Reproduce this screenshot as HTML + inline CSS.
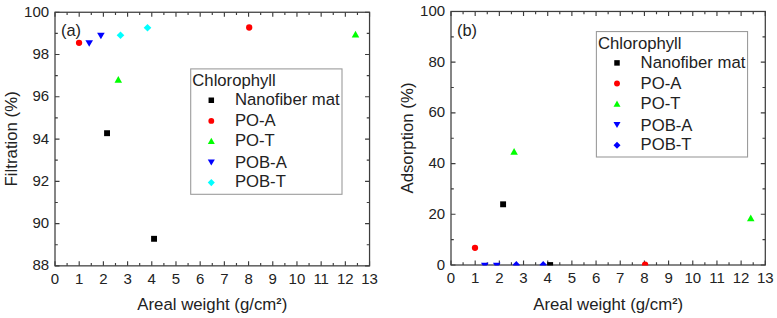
<!DOCTYPE html>
<html><head><meta charset="utf-8"><style>html,body{margin:0;padding:0;background:#fff;width:777px;height:318px;overflow:hidden}svg{display:block}</style></head><body>
<svg width="777" height="318" viewBox="0 0 777 318" font-family="Liberation Sans, sans-serif" fill="#222">
<rect width="777" height="318" fill="#fff"/>
<clipPath id="clipL"><rect x="54.40" y="11.65" width="315.75" height="254.80"/></clipPath>
<path d="M55.00 265.85v-4.5M55.00 12.25v4.5M67.10 265.85v-2.8M67.10 12.25v2.8M79.20 265.85v-4.5M79.20 12.25v4.5M91.29 265.85v-2.8M91.29 12.25v2.8M103.39 265.85v-4.5M103.39 12.25v4.5M115.49 265.85v-2.8M115.49 12.25v2.8M127.59 265.85v-4.5M127.59 12.25v4.5M139.69 265.85v-2.8M139.69 12.25v2.8M151.78 265.85v-4.5M151.78 12.25v4.5M163.88 265.85v-2.8M163.88 12.25v2.8M175.98 265.85v-4.5M175.98 12.25v4.5M188.08 265.85v-2.8M188.08 12.25v2.8M200.18 265.85v-4.5M200.18 12.25v4.5M212.28 265.85v-2.8M212.28 12.25v2.8M224.37 265.85v-4.5M224.37 12.25v4.5M236.47 265.85v-2.8M236.47 12.25v2.8M248.57 265.85v-4.5M248.57 12.25v4.5M260.67 265.85v-2.8M260.67 12.25v2.8M272.77 265.85v-4.5M272.77 12.25v4.5M284.86 265.85v-2.8M284.86 12.25v2.8M296.96 265.85v-4.5M296.96 12.25v4.5M309.06 265.85v-2.8M309.06 12.25v2.8M321.16 265.85v-4.5M321.16 12.25v4.5M333.26 265.85v-2.8M333.26 12.25v2.8M345.35 265.85v-4.5M345.35 12.25v4.5M357.45 265.85v-2.8M357.45 12.25v2.8M369.55 265.85v-4.5M369.55 12.25v4.5M55.0 265.85h4.5M369.55 265.85h-4.5M55.0 244.72h2.8M369.55 244.72h-2.8M55.0 223.58h4.5M369.55 223.58h-4.5M55.0 202.45h2.8M369.55 202.45h-2.8M55.0 181.32h4.5M369.55 181.32h-4.5M55.0 160.18h2.8M369.55 160.18h-2.8M55.0 139.05h4.5M369.55 139.05h-4.5M55.0 117.92h2.8M369.55 117.92h-2.8M55.0 96.78h4.5M369.55 96.78h-4.5M55.0 75.65h2.8M369.55 75.65h-2.8M55.0 54.52h4.5M369.55 54.52h-4.5M55.0 33.38h2.8M369.55 33.38h-2.8M55.0 12.25h4.5M369.55 12.25h-4.5" stroke="#3d3d3d" stroke-width="1.15" fill="none"/>
<rect x="55.0" y="12.25" width="314.55" height="253.60" stroke="#3d3d3d" stroke-width="1.25" fill="none"/>
<g clip-path="url(#clipL)">
<rect x="104.10" y="130.25" width="5.9" height="5.9" fill="#000"/>
<rect x="151.10" y="235.85" width="5.9" height="5.9" fill="#000"/>
<circle cx="79.05" cy="42.80" r="3.15" fill="#ff0000"/>
<circle cx="249.20" cy="27.50" r="3.15" fill="#ff0000"/>
<path d="M114.55 82.70L118.30 75.90L122.05 82.70Z" fill="#00ff00"/>
<path d="M351.75 37.55L355.50 30.75L359.25 37.55Z" fill="#00ff00"/>
<path d="M85.40 40.30L89.20 46.70L93.00 40.30Z" fill="#0000ff"/>
<path d="M97.10 32.75L100.90 39.15L104.70 32.75Z" fill="#0000ff"/>
<path d="M116.70 35.20L120.50 31.40L124.30 35.20L120.50 39.00Z" fill="#00ffff"/>
<path d="M143.70 27.70L147.50 23.90L151.30 27.70L147.50 31.50Z" fill="#00ffff"/>
</g>
<text transform="translate(55.00,283.55) scale(1,1.0)" text-anchor="middle" font-size="15">0</text>
<text transform="translate(79.20,283.55) scale(1,1.0)" text-anchor="middle" font-size="15">1</text>
<text transform="translate(103.39,283.55) scale(1,1.0)" text-anchor="middle" font-size="15">2</text>
<text transform="translate(127.59,283.55) scale(1,1.0)" text-anchor="middle" font-size="15">3</text>
<text transform="translate(151.78,283.55) scale(1,1.0)" text-anchor="middle" font-size="15">4</text>
<text transform="translate(175.98,283.55) scale(1,1.0)" text-anchor="middle" font-size="15">5</text>
<text transform="translate(200.18,283.55) scale(1,1.0)" text-anchor="middle" font-size="15">6</text>
<text transform="translate(224.37,283.55) scale(1,1.0)" text-anchor="middle" font-size="15">7</text>
<text transform="translate(248.57,283.55) scale(1,1.0)" text-anchor="middle" font-size="15">8</text>
<text transform="translate(272.77,283.55) scale(1,1.0)" text-anchor="middle" font-size="15">9</text>
<text transform="translate(296.96,283.55) scale(1,1.0)" text-anchor="middle" font-size="15">10</text>
<text transform="translate(321.16,283.55) scale(1,1.0)" text-anchor="middle" font-size="15">11</text>
<text transform="translate(345.35,283.55) scale(1,1.0)" text-anchor="middle" font-size="15">12</text>
<text transform="translate(369.55,283.55) scale(1,1.0)" text-anchor="middle" font-size="15">13</text>
<text transform="translate(49.10,270.45) scale(1,1.0)" text-anchor="end" font-size="15">88</text>
<text transform="translate(49.10,228.18) scale(1,1.0)" text-anchor="end" font-size="15">90</text>
<text transform="translate(49.10,185.92) scale(1,1.0)" text-anchor="end" font-size="15">92</text>
<text transform="translate(49.10,143.65) scale(1,1.0)" text-anchor="end" font-size="15">94</text>
<text transform="translate(49.10,101.38) scale(1,1.0)" text-anchor="end" font-size="15">96</text>
<text transform="translate(49.10,59.12) scale(1,1.0)" text-anchor="end" font-size="15">98</text>
<text transform="translate(49.10,16.85) scale(1,1.0)" text-anchor="end" font-size="15">100</text>
<text x="212.28" y="309.6" text-anchor="middle" font-size="16.8">Areal weight (g/cm<tspan font-size="9.6" font-weight="bold" dy="-5.4">2</tspan><tspan dy="5.4">)</tspan></text>
<text transform="translate(17.1,138.85) rotate(-90) scale(1,0.95)" text-anchor="middle" font-size="16.8">Filtration (%)</text>
<text x="61.0" y="35.65" font-size="16.4">(a)</text>
<rect x="190.7" y="68.9" width="151.3" height="125.4" fill="#fff" stroke="#9c9c9c" stroke-width="1.1"/>
<text x="192.30" y="86.00" font-size="16.7">Chlorophyll</text>
<rect x="208.56" y="97.51" width="5.487000000000001" height="5.487000000000001" fill="#000"/>
<text transform="translate(234.90,105.20) scale(1,0.95)" font-size="16.7">Nanofiber mat</text>
<circle cx="211.30" cy="120.90" r="2.93" fill="#ff0000"/>
<text transform="translate(234.90,126.20) scale(1,0.95)" font-size="16.7">PO-A</text>
<path d="M207.81 144.06L211.30 137.74L214.79 144.06Z" fill="#00ff00"/>
<text transform="translate(234.90,146.00) scale(1,0.95)" font-size="16.7">PO-T</text>
<path d="M207.77 159.42L211.30 165.38L214.83 159.42Z" fill="#0000ff"/>
<text transform="translate(234.90,167.50) scale(1,0.95)" font-size="16.7">POB-A</text>
<path d="M207.77 182.60L211.30 179.07L214.83 182.60L211.30 186.13Z" fill="#00ffff"/>
<text transform="translate(234.90,187.30) scale(1,0.95)" font-size="16.7">POB-T</text>
<clipPath id="clipR"><rect x="450.40" y="10.86" width="315.50" height="254.74"/></clipPath>
<path d="M451.00 265.0v-4.5M451.00 11.46v4.5M463.09 265.0v-2.8M463.09 11.46v2.8M475.18 265.0v-4.5M475.18 11.46v4.5M487.27 265.0v-2.8M487.27 11.46v2.8M499.35 265.0v-4.5M499.35 11.46v4.5M511.44 265.0v-2.8M511.44 11.46v2.8M523.53 265.0v-4.5M523.53 11.46v4.5M535.62 265.0v-2.8M535.62 11.46v2.8M547.71 265.0v-4.5M547.71 11.46v4.5M559.80 265.0v-2.8M559.80 11.46v2.8M571.88 265.0v-4.5M571.88 11.46v4.5M583.97 265.0v-2.8M583.97 11.46v2.8M596.06 265.0v-4.5M596.06 11.46v4.5M608.15 265.0v-2.8M608.15 11.46v2.8M620.24 265.0v-4.5M620.24 11.46v4.5M632.33 265.0v-2.8M632.33 11.46v2.8M644.42 265.0v-4.5M644.42 11.46v4.5M656.50 265.0v-2.8M656.50 11.46v2.8M668.59 265.0v-4.5M668.59 11.46v4.5M680.68 265.0v-2.8M680.68 11.46v2.8M692.77 265.0v-4.5M692.77 11.46v4.5M704.86 265.0v-2.8M704.86 11.46v2.8M716.95 265.0v-4.5M716.95 11.46v4.5M729.03 265.0v-2.8M729.03 11.46v2.8M741.12 265.0v-4.5M741.12 11.46v4.5M753.21 265.0v-2.8M753.21 11.46v2.8M765.30 265.0v-4.5M765.30 11.46v4.5M451.0 265.00h4.5M765.3 265.00h-4.5M451.0 239.65h2.8M765.3 239.65h-2.8M451.0 214.29h4.5M765.3 214.29h-4.5M451.0 188.94h2.8M765.3 188.94h-2.8M451.0 163.58h4.5M765.3 163.58h-4.5M451.0 138.23h2.8M765.3 138.23h-2.8M451.0 112.88h4.5M765.3 112.88h-4.5M451.0 87.52h2.8M765.3 87.52h-2.8M451.0 62.17h4.5M765.3 62.17h-4.5M451.0 36.81h2.8M765.3 36.81h-2.8M451.0 11.46h4.5M765.3 11.46h-4.5" stroke="#3d3d3d" stroke-width="1.15" fill="none"/>
<rect x="451.0" y="11.46" width="314.30" height="253.54" stroke="#3d3d3d" stroke-width="1.25" fill="none"/>
<g clip-path="url(#clipR)">
<rect x="500.15" y="201.35" width="5.9" height="5.9" fill="#000"/>
<rect x="547.20" y="262.10" width="5.9" height="5.9" fill="#000"/>
<circle cx="475.00" cy="247.85" r="3.15" fill="#ff0000"/>
<circle cx="645.10" cy="264.75" r="3.15" fill="#ff0000"/>
<path d="M510.35 154.70L514.10 147.90L517.85 154.70Z" fill="#00ff00"/>
<path d="M747.00 221.30L750.75 214.50L754.50 221.30Z" fill="#00ff00"/>
<path d="M481.00 262.80L484.80 269.20L488.60 262.80Z" fill="#0000ff"/>
<path d="M492.95 262.80L496.75 269.20L500.55 262.80Z" fill="#0000ff"/>
<path d="M512.50 264.90L516.30 261.10L520.10 264.90L516.30 268.70Z" fill="#0000ff"/>
<path d="M539.40 264.90L543.20 261.10L547.00 264.90L543.20 268.70Z" fill="#0000ff"/>
</g>
<text transform="translate(451.00,282.70) scale(1,1.0)" text-anchor="middle" font-size="15">0</text>
<text transform="translate(475.18,282.70) scale(1,1.0)" text-anchor="middle" font-size="15">1</text>
<text transform="translate(499.35,282.70) scale(1,1.0)" text-anchor="middle" font-size="15">2</text>
<text transform="translate(523.53,282.70) scale(1,1.0)" text-anchor="middle" font-size="15">3</text>
<text transform="translate(547.71,282.70) scale(1,1.0)" text-anchor="middle" font-size="15">4</text>
<text transform="translate(571.88,282.70) scale(1,1.0)" text-anchor="middle" font-size="15">5</text>
<text transform="translate(596.06,282.70) scale(1,1.0)" text-anchor="middle" font-size="15">6</text>
<text transform="translate(620.24,282.70) scale(1,1.0)" text-anchor="middle" font-size="15">7</text>
<text transform="translate(644.42,282.70) scale(1,1.0)" text-anchor="middle" font-size="15">8</text>
<text transform="translate(668.59,282.70) scale(1,1.0)" text-anchor="middle" font-size="15">9</text>
<text transform="translate(692.77,282.70) scale(1,1.0)" text-anchor="middle" font-size="15">10</text>
<text transform="translate(716.95,282.70) scale(1,1.0)" text-anchor="middle" font-size="15">11</text>
<text transform="translate(741.12,282.70) scale(1,1.0)" text-anchor="middle" font-size="15">12</text>
<text transform="translate(765.30,282.70) scale(1,1.0)" text-anchor="middle" font-size="15">13</text>
<text transform="translate(445.10,269.60) scale(1,1.0)" text-anchor="end" font-size="15">0</text>
<text transform="translate(445.10,218.89) scale(1,1.0)" text-anchor="end" font-size="15">20</text>
<text transform="translate(445.10,168.18) scale(1,1.0)" text-anchor="end" font-size="15">40</text>
<text transform="translate(445.10,117.48) scale(1,1.0)" text-anchor="end" font-size="15">60</text>
<text transform="translate(445.10,66.77) scale(1,1.0)" text-anchor="end" font-size="15">80</text>
<text transform="translate(445.10,16.06) scale(1,1.0)" text-anchor="end" font-size="15">100</text>
<text x="608.15" y="309.6" text-anchor="middle" font-size="16.8">Areal weight (g/cm<tspan font-size="9.6" font-weight="bold" dy="-5.4">2</tspan><tspan dy="5.4">)</tspan></text>
<text transform="translate(413.4,138.03) rotate(-90) scale(1,0.95)" text-anchor="middle" font-size="16.8">Adsorption (%)</text>
<text x="457.0" y="35.66" font-size="16.4">(b)</text>
<rect x="596.4" y="31.55" width="151.15" height="125.45" fill="#fff" stroke="#9c9c9c" stroke-width="1.1"/>
<text x="598.00" y="48.65" font-size="16.7">Chlorophyll</text>
<rect x="614.26" y="60.16" width="5.487000000000001" height="5.487000000000001" fill="#000"/>
<text transform="translate(640.60,68.35) scale(1,0.95)" font-size="16.7">Nanofiber mat</text>
<circle cx="617.00" cy="83.55" r="2.93" fill="#ff0000"/>
<text transform="translate(640.60,89.35) scale(1,0.95)" font-size="16.7">PO-A</text>
<path d="M613.51 106.71L617.00 100.39L620.49 106.71Z" fill="#00ff00"/>
<text transform="translate(640.60,109.15) scale(1,0.95)" font-size="16.7">PO-T</text>
<path d="M613.47 122.07L617.00 128.03L620.53 122.07Z" fill="#0000ff"/>
<text transform="translate(640.60,130.65) scale(1,0.95)" font-size="16.7">POB-A</text>
<path d="M613.47 145.25L617.00 141.72L620.53 145.25L617.00 148.78Z" fill="#0000ff"/>
<text transform="translate(640.60,150.45) scale(1,0.95)" font-size="16.7">POB-T</text>
</svg>
</body></html>
